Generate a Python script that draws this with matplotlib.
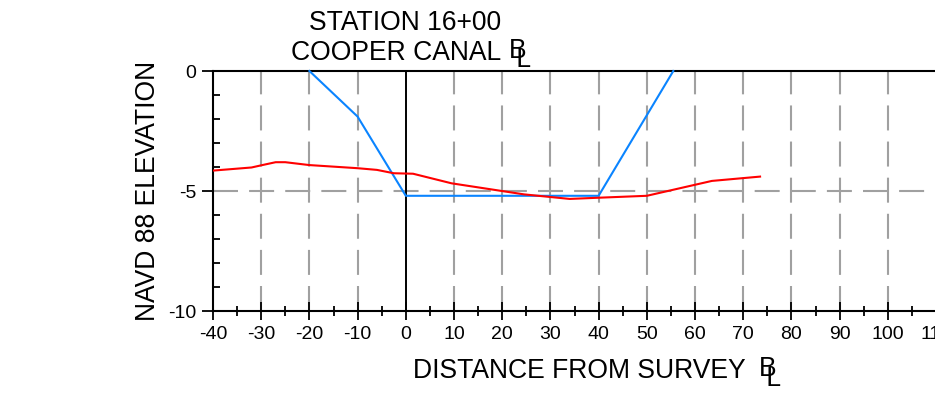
import matplotlib
matplotlib.use("Agg")
import matplotlib.pyplot as plt
from matplotlib.ticker import MultipleLocator, FixedLocator

plt.rcParams['lines.scale_dashes'] = False

# Data
design_x = [-20, -10, 0, 40, 55.5]
design_y = [0, -1.9, -5.2, -5.2, 0]

ground_x = [-40, -32, -30, -27, -25, -20, -10, -6, -2.5, 1.5, 9.5, 24.5, 34, 40, 50, 63.5, 73.5]
ground_y = [-4.15, -4.02, -3.93, -3.8, -3.8, -3.92, -4.05, -4.12, -4.26, -4.28, -4.68, -5.14, -5.33,
            -5.28, -5.2, -4.58, -4.4]

x_ticks = list(range(-40, 111, 10))
y_ticks = [0, -5, -10]
title_lines = ["STATION 16+00", "COOPER CANAL"]
xlabel = "DISTANCE FROM SURVEY"
ylabel = "NAVD 88 ELEVATION"
cl_symbol = "B\n L"  # centre-line symbol, drawn as overlapped B and L

W, H = 935, 400
fig = plt.figure(figsize=(W / 100, H / 100), dpi=100)
L, R, T, B = 213, 936, 71, 311
ax = fig.add_axes([L / W, 1 - B / H, (R - L) / W, (B - T) / H])
ax.set_xlim(-40, 110)
ax.set_ylim(-10, 0)

grid_kw = dict(color='#a0a0a0', lw=1.5, dashes=(18, 8), zorder=1)
for gx in x_ticks:
    if gx not in (-40, 0):
        ax.axvline(gx, **grid_kw)
ax.axhline(-5, **grid_kw)
ax.axvline(0, color='black', lw=1.4, zorder=2)

ax.plot(design_x, design_y, color='#0a84ff', lw=1.5, zorder=3, clip_on=False)
ax.plot(ground_x, ground_y, color='#ff0000', lw=1.5, zorder=4)

for s in ('left', 'bottom', 'top'):
    ax.spines[s].set_linewidth(1.5)
    ax.spines[s].set_color('black')
ax.spines['right'].set_visible(False)

ax.xaxis.set_major_locator(FixedLocator(x_ticks))
ax.xaxis.set_minor_locator(MultipleLocator(5))
ax.yaxis.set_major_locator(FixedLocator(y_ticks))
ax.yaxis.set_minor_locator(MultipleLocator(1))

tick_font = ['Liberation Sans', 'DejaVu Sans']
ax.set_xticklabels([str(v) for v in x_ticks], family=tick_font, fontsize=14)
ax.set_yticklabels([str(v) for v in y_ticks], family=tick_font, fontsize=14)

ax.tick_params(axis='x', which='major', direction='inout', length=13, width=1.3, pad=4)
ax.tick_params(axis='x', which='minor', direction='inout', length=7, width=1.3)
ax.tick_params(axis='y', which='major', direction='out', length=8, width=1.3, pad=4)
ax.tick_params(axis='y', which='minor', direction='in', length=5, width=1.3)

txt_font = ['Liberation Sans', 'DejaVu Sans']
fs = 19.1


def px(x, y):
    return x / W, 1 - y / H


fig.text(*px(405, 30), title_lines[0], ha='center', va='baseline', fontsize=fs, family=txt_font)
fig.text(*px(291, 60), title_lines[1], ha='left', va='baseline', fontsize=fs, family=txt_font)
fig.text(*px(509, 67), cl_symbol, ha='left', va='baseline', fontsize=fs, family=txt_font,
         linespacing=0.175, multialignment='left')

fig.text(*px(413, 378), xlabel, ha='left', va='baseline', fontsize=fs, family=txt_font)
fig.text(*px(759, 386), cl_symbol, ha='left', va='baseline', fontsize=fs, family=txt_font,
         linespacing=0.175, multialignment='left')

fig.text(*px(148, 191), ylabel, ha='center', va='center', rotation=90, fontsize=fs,
         family=txt_font)

fig.savefig('out.png', dpi=100)
